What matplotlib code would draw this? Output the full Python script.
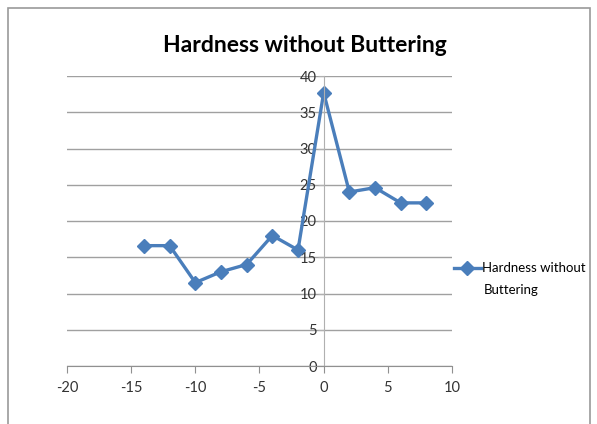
import matplotlib
matplotlib.use('Agg')
import matplotlib.pyplot as plt
from matplotlib.patches import Rectangle

FONT = ['Lato', 'DejaVu Sans']

offsets = [-14, -12, -10, -8, -6, -4, -2, 0, 2, 4, 6, 8]
hardness = [16.6, 16.6, 11.5, 13.0, 14.0, 18.0, 16.0, 37.7, 24.0, 24.6, 22.5, 22.5]
x_ticks = [-20, -15, -10, -5, 0, 5, 10]
y_ticks = [0, 5, 10, 15, 20, 25, 30, 35, 40]
series_name = ['Hardness without', 'Buttering']

plt.rcParams['font.family'] = FONT
plt.rcParams['axes.unicode_minus'] = False

fig = plt.figure(figsize=(5.97, 4.24), dpi=100)
fig.patches.append(Rectangle((8 / 597, -0.1), 582 / 597, 1.1 - 8 / 424,
                             transform=fig.transFigure, fill=False,
                             edgecolor='#9a9a9a', linewidth=1.2))

ax = fig.add_axes([67 / 597, 58 / 424, 385 / 597, 290 / 424])
ax.plot(offsets, hardness, color='#4a7ebb', linewidth=2.4, marker='D',
        markersize=7, label=series_name[0])

ax.set_xlim(-20, 10)
ax.set_ylim(0, 40)
ax.set_xticks(x_ticks)
ax.set_yticks(y_ticks)
ax.yaxis.grid(True, color='#a0a0a0', linewidth=1)
ax.set_axisbelow(True)

for s in ['top', 'right']:
    ax.spines[s].set_visible(False)
ax.spines['left'].set_position(('data', 0))
ax.spines['left'].set_color('#b0b0b0')
ax.spines['bottom'].set_color('#909090')
ax.tick_params(axis='x', direction='out', length=5, color='#909090',
               labelsize=10.5, labelcolor='#333333', pad=6)
ax.tick_params(axis='y', direction='out', length=4, color='#b0b0b0',
               labelsize=10.5, labelcolor='#333333', pad=1)

fig.text(305 / 597, 1 - 45 / 424, 'Hardness without Buttering', ha='center',
         va='center', fontsize=16.5, fontweight='bold')

# legend marker sits on the first line, second line of the name hangs below
ax.legend(loc='center left', bbox_to_anchor=(0.975, 0.337), frameon=False,
          fontsize=9.5, handlelength=2.0, handletextpad=0.1)
fig.text(484 / 597, 1 - 290 / 424, series_name[1], ha='left', va='center',
         fontsize=9.5)

fig.savefig('out.png', dpi=100)
